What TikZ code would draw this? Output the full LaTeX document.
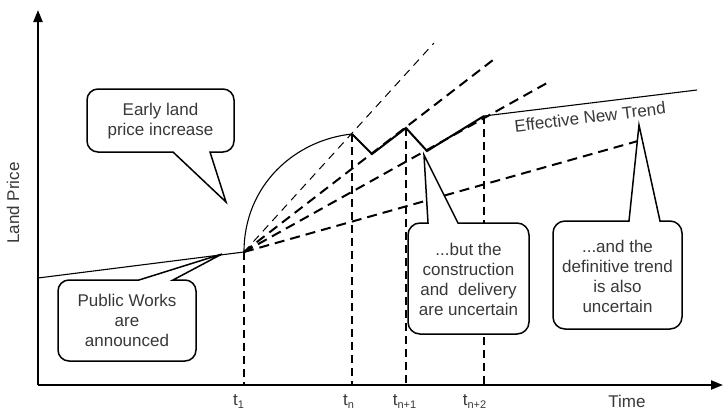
\documentclass[tikz,border=0pt]{standalone}
\usepackage{fontspec}
\setmainfont{Liberation Sans}
\usetikzlibrary{arrows.meta}
\newcommand\tsubx[1]{t\raisebox{-3pt}{\fontsize{11}{11}\selectfont #1}}
\begin{document}
\begin{tikzpicture}[x=1pt,y=-1pt,
  lbl/.style={text=black!78, font=\fontsize{17}{20}\selectfont, inner sep=0pt},
  ctext/.style={lbl, align=center},
  callout/.style={draw=black, line width=1.5pt, fill=white},
  thickdash/.style={line width=2pt, dash pattern=on 10pt off 6pt},
  thindash/.style={line width=1pt, dash pattern=on 8pt off 6pt},
  vdash/.style={line width=1.5pt, dash pattern=on 8pt off 5pt},
  thickline/.style={line width=2pt},
  thinline/.style={line width=1.1pt},
  axis/.style={line width=2.2pt, -{Triangle[length=12pt,width=9pt]}},
]
\useasboundingbox (0,0) rectangle (724,410);
% key points
\coordinate (Og) at (38,385);
\coordinate (Ytop) at (38,10);
\coordinate (Xend) at (723,385);
\coordinate (L0) at (38,278);
\coordinate (O) at (244,252);
\coordinate (A) at (352,134);
\coordinate (Z1) at (372,154);
\coordinate (B) at (406,128);
\coordinate (Z2) at (427,151);
\coordinate (C) at (484,116);
\coordinate (R) at (697,90);
\coordinate (D0) at (434,43);
\coordinate (D1) at (493,60);
\coordinate (D2) at (547,83);
\coordinate (D3) at (638,141);
\coordinate (Ob) at (244,385);
\coordinate (Ab) at (352,385);
\coordinate (Bb) at (406,385);
\coordinate (Cb) at (484,385);
% vertical dashed
\draw[vdash] (O) -- (Ob);
\draw[vdash] (A) -- (Ab);
\draw[vdash] (B) -- (Bb);
\draw[vdash] (C) -- (Cb);
% fan of trends
\draw[thindash] (O) -- (D0);
\draw[thickdash] (O) -- (D1);
\draw[thickdash] (O) -- (D2);
\draw[thickdash] (O) -- (D3);
% solid lines
\draw[thinline] (L0) -- (O);
\draw[thinline] (O) .. controls (244,185) and (295,140) .. (A);
\draw[thickline] (A) -- (Z1) -- (B) -- (Z2) -- (C);
\draw[thinline] (C) -- (R);
% axes
\draw[axis] (Og) -- (Ytop);
\draw[axis] (Og) -- (Xend);
% callouts
\draw[callout] (173,152) [rounded corners=11pt] -- (87,152) -- (87,89) -- (234,89) -- (234,152) [sharp corners] -- (210,152) -- (226,202) -- cycle;
\draw[callout] (173,280) [rounded corners=11pt] -- (196,280) -- (196,361) -- (58,361) -- (58,280) [sharp corners] -- (139,280) -- (222,254) -- cycle;
\draw[callout] (458,223) [rounded corners=12pt] -- (529,223) -- (529,334) -- (408,334) -- (408,223) [sharp corners] -- (428,223) -- (424,155) -- cycle;
\draw[callout] (660,221) [rounded corners=12pt] -- (682,221) -- (682,329) -- (553,329) -- (553,221) [sharp corners] -- (629,221) -- (639,125) -- cycle;
% texts
\node[ctext] (c1) at (160.5,121) {Early land\\price increase};
\node[ctext] (c2) at (127,320.5) {Public Works\\are\\announced};
\node[ctext] (c3) at (468.5,279) {...but the\\construction\\and\ \ delivery\\are uncertain};
\node[ctext] (c4) at (617.5,276) {...and the\\definitive trend\\is also\\uncertain};
\node[lbl, rotate=7] (ent) at (590,117) {Effective New Trend};
\node[lbl, rotate=90] (yl) at (13,203) {Land Price};
\node[lbl, anchor=base] (xl) at (627,407) {Time};
\node[lbl, anchor=base] (t1) at (238.5,405) {\tsubx{1}};
\node[lbl, anchor=base] (tn) at (348.5,405) {\tsubx{n}};
\node[lbl, anchor=base] (tn1) at (404.5,405) {\tsubx{n+1}};
\node[lbl, anchor=base] (tn2) at (474.5,405) {\tsubx{n+2}};
\end{tikzpicture}
\end{document}
